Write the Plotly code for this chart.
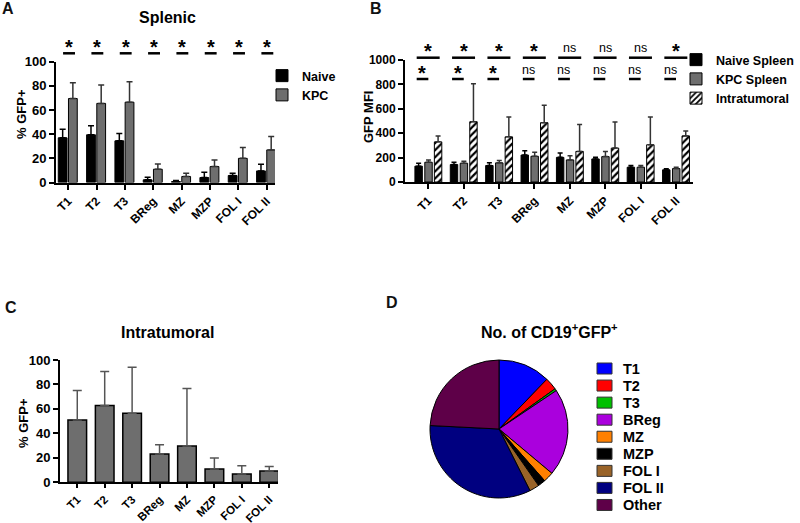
import plotly.graph_objects as go

# ---------------- data ----------------
categories = ["T1", "T2", "T3", "BReg", "MZ", "MZP", "FOL I", "FOL II"]

# Panel A: Splenic % GFP+
a_naive = [37, 39.5, 34.5, 2.2, 0.8, 4.1, 5.8, 9.6]
a_naive_err = [7, 7.5, 6, 2.2, 0.8, 4.4, 1.9, 5.6]
a_kpc = [69.5, 65.5, 66.5, 11, 5, 13.2, 20, 27]
a_kpc_err = [13, 15.3, 17, 4.4, 2.7, 5.5, 8.9, 11]
a_sig = ["*", "*", "*", "*", "*", "*", "*", "*"]

# Panel B: GFP MFI
b_naive = [130, 143, 135, 221, 202, 189, 121, 100]
b_naive_err = [24, 19, 22, 35, 36, 13, 14, 8]
b_kpc = [162, 154, 157, 211, 181, 208, 121, 110]
b_kpc_err = [19, 16, 19, 32, 35, 43, 14, 10]
b_intra = [329, 494, 370, 486, 251, 278, 305, 378]
b_intra_err = [49, 311, 162, 143, 221, 213, 227, 40]
b_sig_top = ["*", "*", "*", "*", "ns", "ns", "ns", "*"]
b_sig_bottom = ["*", "*", "*", "ns", "ns", "ns", "ns", "ns"]

# Panel C: Intratumoral % GFP+
c_intra = [51, 62.7, 56.4, 23.1, 29.7, 10.9, 6.8, 9.2]
c_intra_err = [24, 27.8, 37.6, 7.7, 47, 9, 6.8, 3.8]

# Panel D: No. of CD19+GFP+
pie_labels = ["T1", "T2", "T3", "BReg", "MZ", "MZP", "FOL I", "FOL II", "Other"]
pie_values = [12.2, 2.9, 0.5, 20.5, 2.4, 1.8, 2.3, 33.2, 24.2]
pie_colors = ["#0000FF", "#FF0000", "#00C000", "#AA00DD", "#FF8000",
              "#000000", "#996328", "#000080", "#5E0048"]

# ---------------- styling helpers ----------------
FONT = "Liberation Sans, Arial, sans-serif"
W, H = 800, 523


def px_x(p):
    return p / W


def px_y(p):
    return 1 - p / H


def bold(size, color="#000"):
    return dict(family=FONT, size=size, color=color, weight="bold")


def err(arr, color="#000", width=3, thick=1.5):
    return dict(type="data", array=arr, arrayminus=[0] * len(arr),
                symmetric=False, color=color, thickness=thick, width=width)


fig = go.Figure()

# ---- Panel A ----
fig.add_trace(go.Bar(x=categories, y=a_naive, name="Naive", xaxis="x", yaxis="y",
                     marker=dict(color="#000", line=dict(color="#000", width=1)),
                     offset=-0.35, width=0.31, error_y=err(a_naive_err),
                     legend="legend"))
fig.add_trace(go.Bar(x=categories, y=a_kpc, name="KPC", xaxis="x", yaxis="y",
                     marker=dict(color="#6E6E6E", line=dict(color="#000", width=1)),
                     offset=0.01, width=0.31, error_y=err(a_kpc_err, "#333"),
                     legend="legend"))

# ---- Panel B ----
fig.add_trace(go.Bar(x=categories, y=b_naive, name="Naive Spleen", xaxis="x2", yaxis="y2",
                     marker=dict(color="#000", line=dict(color="#000", width=1)),
                     offset=-0.38, width=0.21, error_y=err(b_naive_err, width=2.5),
                     legend="legend2"))
fig.add_trace(go.Bar(x=categories, y=b_kpc, name="KPC Spleen", xaxis="x2", yaxis="y2",
                     marker=dict(color="#6E6E6E", line=dict(color="#000", width=1)),
                     offset=-0.1, width=0.21, error_y=err(b_kpc_err, "#333", width=2.5),
                     legend="legend2"))
fig.add_trace(go.Bar(x=categories, y=b_intra, name="Intratumoral", xaxis="x2", yaxis="y2",
                     marker=dict(color="#FFF", line=dict(color="#000", width=1),
                                 pattern=dict(shape="/", fgcolor="#000", bgcolor="#FFF",
                                              size=5, solidity=0.45)),
                     offset=0.17, width=0.21, error_y=err(b_intra_err, "#333", width=2.5),
                     legend="legend2"))

# ---- Panel C ----
fig.add_trace(go.Bar(x=categories, y=c_intra, name="Intratumoral", xaxis="x3", yaxis="y3",
                     marker=dict(color="#6E6E6E", line=dict(color="#000", width=1.5)),
                     width=0.68, error_y=err(c_intra_err, "#555", width=4.5),
                     showlegend=False))

# ---- Panel D ----
pie_dom_x = [px_x(430), px_x(568)]
pie_dom_y = [px_y(498), px_y(360)]
fig.add_trace(go.Pie(labels=pie_labels, values=pie_values, sort=False,
                     direction="clockwise", rotation=0, textinfo="none",
                     hoverinfo="label+percent",
                     marker=dict(colors=pie_colors, line=dict(color="#000", width=1)),
                     domain=dict(x=pie_dom_x, y=pie_dom_y), showlegend=False))

# ---------------- axes ----------------
axis_common = dict(showline=True, linecolor="#000", linewidth=2, ticks="outside",
                   tickcolor="#000", tickwidth=2, ticklen=5, showgrid=False,
                   zeroline=False, mirror=False, automargin=False)

xcat = dict(axis_common, type="category", tickangle=-45, tickfont=bold(12))

layout = dict(
    template="none",
    width=W, height=H, margin=dict(l=0, r=0, t=0, b=0, autoexpand=False),
    paper_bgcolor="#FFF", plot_bgcolor="rgba(0,0,0,0)", barmode="overlay",
    font=dict(family=FONT, color="#000"),
    xaxis=dict(xcat, domain=[px_x(56), px_x(275)], range=[-0.43, 7.3], anchor="y"),
    yaxis=dict(axis_common, domain=[px_y(182.5), px_y(61.7)], range=[0, 100], dtick=20,
               tickfont=bold(13), anchor="x"),
    xaxis2=dict(xcat, domain=[px_x(405), px_x(693)], range=[-0.66, 7.48], anchor="y2"),
    yaxis2=dict(axis_common, domain=[px_y(182), px_y(60)], range=[0, 1000], dtick=200,
                tickfont=bold(12), anchor="x2"),
    xaxis3=dict(xcat, domain=[px_x(60), px_x(278)], range=[-0.63, 7.32], anchor="y3",
                tickfont=bold(11.5), ticklen=4),
    yaxis3=dict(axis_common, domain=[px_y(482.3), px_y(360)], range=[0, 100], dtick=20,
                tickfont=bold(13), anchor="x3"),
    legend=dict(x=px_x(262), y=px_y(61), xanchor="left", yanchor="top",
                font=bold(12.5), bgcolor="rgba(0,0,0,0)", borderwidth=0),
    legend2=dict(x=px_x(676), y=px_y(45), xanchor="left", yanchor="top",
                 font=bold(12.5), bgcolor="rgba(0,0,0,0)", borderwidth=0),
)
fig.update_layout(**layout)

annotations = []
shapes = []

# panel letters
for letter, (lx, ly) in {"A": (8, 9), "B": (376, 9), "C": (11, 307), "D": (392, 302)}.items():
    annotations.append(dict(text=letter, x=px_x(lx), y=px_y(ly), xref="paper", yref="paper",
                            showarrow=False, font=bold(16, "#111"),
                            xanchor="center", yanchor="middle"))

# titles
annotations.append(dict(text="Splenic", x=px_x(167), y=px_y(17), xref="paper", yref="paper",
                        showarrow=False, font=bold(16), xanchor="center", yanchor="middle"))
annotations.append(dict(text="Intratumoral", x=px_x(167), y=px_y(332), xref="paper",
                        yref="paper", showarrow=False, font=bold(16),
                        xanchor="center", yanchor="middle"))
annotations.append(dict(text="No. of CD19<sup>+</sup>GFP<sup>+</sup>", x=px_x(549),
                        y=px_y(331), xref="paper", yref="paper", showarrow=False,
                        font=bold(16), xanchor="center", yanchor="middle"))

# y-axis titles
for txt, (tx, ty) in (("% GFP+", (21, 114)), ("GFP MFI", (368, 117)), ("% GFP+", (23, 423))):
    annotations.append(dict(text=txt, x=px_x(tx), y=px_y(ty), xref="paper", yref="paper",
                            showarrow=False, font=bold(13), textangle=-90,
                            xanchor="center", yanchor="middle"))

# significance marks, panel A
for i, s in enumerate(a_sig):
    annotations.append(dict(text=s, x=i + 0.03, y=px_y(43 + 4), xref="x", yref="paper",
                            showarrow=False, font=bold(20), xanchor="center",
                            yanchor="middle"))
    shapes.append(dict(type="line", xref="x", yref="paper", x0=i - 0.18, x1=i + 0.24,
                       y0=px_y(53.3), y1=px_y(53.3), line=dict(color="#000", width=2.5)))

# significance marks, panel B
for i, (st, sb) in enumerate(zip(b_sig_top, b_sig_bottom)):
    for s, dx, yc in ((st, 0.0, 46.7), (sb, -0.17, 69)):
        if s == "*":
            annotations.append(dict(text=s, x=i + dx, y=px_y(yc + 4), xref="x2",
                                    yref="paper", showarrow=False, font=bold(20),
                                    xanchor="center", yanchor="middle"))
        else:
            annotations.append(dict(text=s, x=i + dx, y=px_y(yc + 1), xref="x2",
                                    yref="paper", showarrow=False,
                                    font=dict(family=FONT, size=12.5, color="#000"),
                                    xanchor="center", yanchor="middle"))
    shapes.append(dict(type="line", xref="x2", yref="paper", x0=i - 0.33, x1=i + 0.32,
                       y0=px_y(57.7), y1=px_y(57.7), line=dict(color="#000", width=2.5)))
    shapes.append(dict(type="line", xref="x2", yref="paper", x0=i - 0.33, x1=i + 0.0,
                       y0=px_y(79), y1=px_y(79), line=dict(color="#000", width=2.5)))

# manual legend for pie (panel D)
for i, (lab, col) in enumerate(zip(pie_labels, pie_colors)):
    yc = 368.5 + 17.06 * i
    shapes.append(dict(type="rect", xref="paper", yref="paper",
                       x0=px_x(597), x1=px_x(612), y0=px_y(yc + 5.5), y1=px_y(yc - 5.5),
                       fillcolor=col, line=dict(color="#333", width=1)))
    annotations.append(dict(text=lab, x=px_x(621), y=px_y(yc), xref="paper", yref="paper",
                            showarrow=False, font=bold(14.5), xanchor="left",
                            yanchor="middle"))

fig.update_layout(annotations=annotations, shapes=shapes)

fig.write_html("out.html",
               config={"displayModeBar": False},
               post_script="document.body.style.margin='0px';"
                           "document.body.style.overflow='hidden';")
